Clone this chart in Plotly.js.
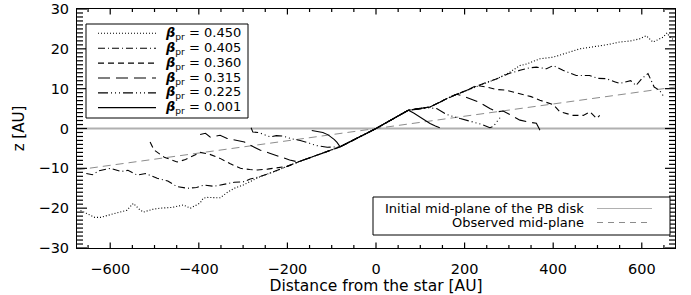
<!DOCTYPE html>
<html>
<head>
<meta charset="utf-8">
<script src="https://cdn.plot.ly/plotly-3.0.1.min.js"></script>
<style>html,body{margin:0;padding:0;background:#fff;}#chart{width:691px;height:295px;}</style>
</head>
<body>
<div id="chart"></div>
<script>
// ---- tick labels ----
const xTicks = [-600, -400, -200, 0, 200, 400, 600];
const yTicks = [-30, -20, -10, 0, 10, 20, 30];
const xMinorStep = 50;
const yMinorStep = 1;

// ---- beta values ----
const betaLabels = ["0.450", "0.405", "0.360", "0.315", "0.225", "0.001"];

// ---- beta_pr = 0.450 (dotted) ----
const x450 = [-667,-650,-635,-622,-600,-577,-562,-548,-535,-525,-505,-487,-460,-435,-419,-397,-390,-381,-352,-335,-320,-300,-291,-275,-260,-232,-176,-81,0,73,122,167,205,240,273,300,325,340,370,400,430,460,490,520,550,575,595,610,625,640,648,657,663,670];
const z450 = [-20.6,-21.6,-22.3,-22.3,-21.6,-21.0,-20.5,-18.8,-20.2,-21.0,-20.3,-20.0,-19.8,-19.2,-20.0,-18.7,-17.5,-17.3,-17.4,-16.0,-15.0,-14.2,-13.7,-12.9,-12.0,-10.9,-8.4,-4.6,0,4.6,5.4,7.9,9.6,11.2,12.5,14.0,15.8,16.2,17.5,17.9,19.0,20.0,20.5,21.0,21.7,22.0,22.5,23.3,21.7,22.5,22.9,24.0,23.0,22.4];

// ---- beta_pr = 0.405 (dash-dot) ----
const x405 = [-654,-640,-625,-600,-575,-560,-539,-520,-494,-470,-449,-426,-405,-388,-366,-345,-320,-300,-284,-260,-232,-176,-81,0,73,122,167,205,240,273,300,325,345,362,385,400,422,452,482,500,520,540,550,575,587,600,614,628,640,648];
const z405 = [-11.3,-11.6,-10.6,-10.0,-10.8,-10.5,-11.7,-11.3,-12.5,-13.2,-14.6,-15.0,-14.8,-14.2,-14.5,-14.0,-13.5,-13.4,-12.7,-12.0,-10.9,-8.4,-4.6,0,4.6,5.4,7.9,9.6,11.2,12.5,13.8,14.6,15.2,15.4,15.0,15.8,14.6,13.3,13.3,12.6,12.5,11.7,11.3,12.0,10.8,12.5,13.8,10.4,9.6,8.3];

// ---- beta_pr = 0.360 (dashed) ----
const x360 = [-510,-501,-478,-449,-430,-419,-397,-375,-352,-330,-306,-285,-268,-245,-225,-200,-176,-81,0,73,122,167,205,227,250,272,295,334,350,370,400,415,430,445,468,483,498,505];
const z360 = [-3.4,-5.4,-7.2,-8.4,-7.8,-7.2,-6.0,-6.5,-7.5,-8.8,-10.0,-10.3,-10.4,-10.2,-9.9,-9.5,-8.4,-4.6,0,4.6,5.4,7.9,9.6,10.8,10.4,9.8,9.6,8.6,8.0,7.1,6.0,4.2,3.8,3.3,3.3,4.2,2.5,3.3];

// ---- beta_pr = 0.315 (long dash) ----
const x315 = [-397,-385,-374,-352,-336,-320,-297,-284,-262,-240,-217,-195,-176,-81,0,73,122,167,182,195,212,235,257,275,287,300,325,345,362,370,377];
const z315 = [-1.5,-1.2,-2.2,-1.7,-2.5,-2.9,-3.4,-4.2,-5.4,-6.2,-7.1,-7.9,-8.4,-4.6,0,4.6,5.4,7.9,8.6,8.2,7.5,6.5,5.0,4.2,4.4,3.6,2.1,1.6,1.3,-0.4,-0.8];

// ---- beta_pr = 0.225 (dash-dot-dot-dot) ----
const x225 = [-282,-278,-265,-250,-239,-225,-210,-190,-171,-150,-134,-110,-81,0,73,100,120,137,160,190,219,240,257,265,272,280];
const z225 = [0.2,-0.9,-1.0,-1.6,-2.1,-1.8,-1.9,-2.6,-3.0,-3.7,-4.3,-4.7,-4.6,0,4.6,4.9,5.2,5.0,3.5,2.5,1.7,1.0,0.2,0.5,1.6,2.7];

// ---- beta_pr = 0.001 (solid) ----
const x001 = [-145,-130,-120,-108,-100,-94,-88,-81,0,73,85,99,110,122,134,144];
const z001 = [-0.5,-0.7,-1.0,-1.6,-2.2,-2.8,-3.5,-4.6,0,4.6,3.9,2.9,2.0,1.25,0.6,0.2];

// ---- reference planes ----
const xPlane = [-675, 675];
const zInitial = [0, 0];
const zObserved = [-10.4, 10.4];
const planeLabels = ["Initial mid-plane of the PB disk", "Observed mid-plane"];

// ---- styles ----
const dashes = ["1px,2px", "7px,3px,1px,3px", "6px,4px", "12px,6px", "10px,3px,1px,3px,1px,3px,1px,3px", "solid"];
const seriesX = [x450, x405, x360, x315, x225, x001];
const seriesZ = [z450, z405, z360, z315, z225, z001];

// plot area in pixels
const L = 77, R = 675, T = 9, B = 248;
const W = R - L, H = B - T;
const px = v => (v - L) / W;
const py = v => (B - v) / H;
const xr = [-675, 675], yr = [-30, 30];
const xPerPx = (xr[1] - xr[0]) / W, yPerPx = (yr[1] - yr[0]) / H;

const traces = [];
traces.push({x: xPlane, y: zInitial, mode: 'lines', line: {color: '#b0b0b0', width: 2}, showlegend: false, hoverinfo: 'skip'});
traces.push({x: xPlane, y: zObserved, mode: 'lines', line: {color: '#8c8c8c', width: 1, dash: '8px,5px'}, showlegend: false, hoverinfo: 'skip'});
for (let i = 0; i < seriesX.length; i++) {
  traces.push({x: seriesX[i], y: seriesZ[i], mode: 'lines', line: {color: 'black', width: 1.1, dash: dashes[i]}, showlegend: false});
}

// ---- inward, mirrored axis ticks built from the tick arrays (axis decoration) ----
const tx = [], ty = [];
for (let v = Math.ceil(xr[0] / xMinorStep) * xMinorStep; v <= xr[1]; v += xMinorStep) {
  const len = (xTicks.indexOf(v) >= 0 ? 5.5 : 3) * yPerPx;
  tx.push(v, v, null, v, v, null);
  ty.push(yr[0], yr[0] + len, null, yr[1], yr[1] - len, null);
}
for (let v = yr[0]; v <= yr[1]; v += yMinorStep) {
  const len = (yTicks.indexOf(v) >= 0 ? 10 : 6) * xPerPx;
  tx.push(xr[0], xr[0] + len, null, xr[1], xr[1] - len, null);
  ty.push(v, v, null, v, v, null);
}
traces.push({x: tx, y: ty, mode: 'lines', line: {color: '#000000', width: 1.2}, connectgaps: false, showlegend: false, hoverinfo: 'skip'});

const shapes = [];
const annotations = [];
const font = "DejaVu Sans, sans-serif";

// legend 1 box
shapes.push({type: 'rect', xref: 'paper', yref: 'paper', x0: px(86), x1: px(248), y0: py(118), y1: py(24), line: {color: 'black', width: 1}, fillcolor: 'white', layer: 'above'});
const rowsY = [33.3, 48.2, 63.1, 78.0, 92.9, 107.6];
for (let i = 0; i < betaLabels.length; i++) {
  shapes.push({type: 'line', xref: 'paper', yref: 'paper', x0: px(98), x1: px(156), y0: py(rowsY[i]), y1: py(rowsY[i]), line: {color: 'black', width: 1.1, dash: dashes[i]}, layer: 'above'});
  annotations.push({xref: 'paper', yref: 'paper', x: px(163), y: py(rowsY[i]), xanchor: 'left', yanchor: 'middle', showarrow: false,
    text: '<b><i>β</i></b><sub>pr</sub> = ' + betaLabels[i], font: {family: font, size: 13, color: 'black'}});
}

// legend 2 box
shapes.push({type: 'rect', xref: 'paper', yref: 'paper', x0: px(373), x1: px(670), y0: py(235), y1: py(197), line: {color: 'black', width: 1}, fillcolor: 'white', layer: 'above'});
const rows2 = [208.5, 222.5];
const planeStyles = [{color: '#b0b0b0', width: 1, dash: 'solid'}, {color: '#8c8c8c', width: 1, dash: '6px,5px'}];
for (let i = 0; i < 2; i++) {
  shapes.push({type: 'line', xref: 'paper', yref: 'paper', x0: px(597), x1: px(652), y0: py(rows2[i]), y1: py(rows2[i]), line: planeStyles[i], layer: 'above'});
  annotations.push({xref: 'paper', yref: 'paper', x: px(586), y: py(rows2[i]), xanchor: 'right', yanchor: 'middle', showarrow: false,
    text: planeLabels[i], font: {family: font, size: 13, color: 'black'}});
}

const layout = {
  width: 691, height: 295,
  margin: {l: L, r: 691 - R, t: T, b: 295 - B},
  paper_bgcolor: 'white', plot_bgcolor: 'white',
  font: {family: font, size: 14, color: 'black'},
  showlegend: false,
  xaxis: {
    range: xr, tickmode: 'array', tickvals: xTicks, ticktext: xTicks.map(v => v < 0 ? '\u2212' + Math.abs(v) : String(v)),
    ticks: '', showline: true, linecolor: '#000000', linewidth: 1, mirror: true, showgrid: false, zeroline: false,
    ticklabelstandoff: 8,
    tickfont: {family: font, size: 14.5, color: 'black'},
    title: {text: 'Distance from the star [AU]', font: {family: font, size: 15.5, color: 'black'}, standoff: 5}
  },
  yaxis: {
    range: yr, tickmode: 'array', tickvals: yTicks, ticktext: yTicks.map(v => v < 0 ? '\u2212' + Math.abs(v) : String(v)),
    ticks: '', showline: true, linecolor: '#000000', linewidth: 1, mirror: true, showgrid: false, zeroline: false,
    ticklabelstandoff: 4,
    tickfont: {family: font, size: 14.5, color: 'black'},
    title: {text: 'z [AU]', font: {family: font, size: 15, color: 'black'}, standoff: 10}
  },
  shapes: shapes,
  annotations: annotations
};

Plotly.newPlot('chart', traces, layout, {staticPlot: true, displayModeBar: false});
</script>
</body>
</html>
